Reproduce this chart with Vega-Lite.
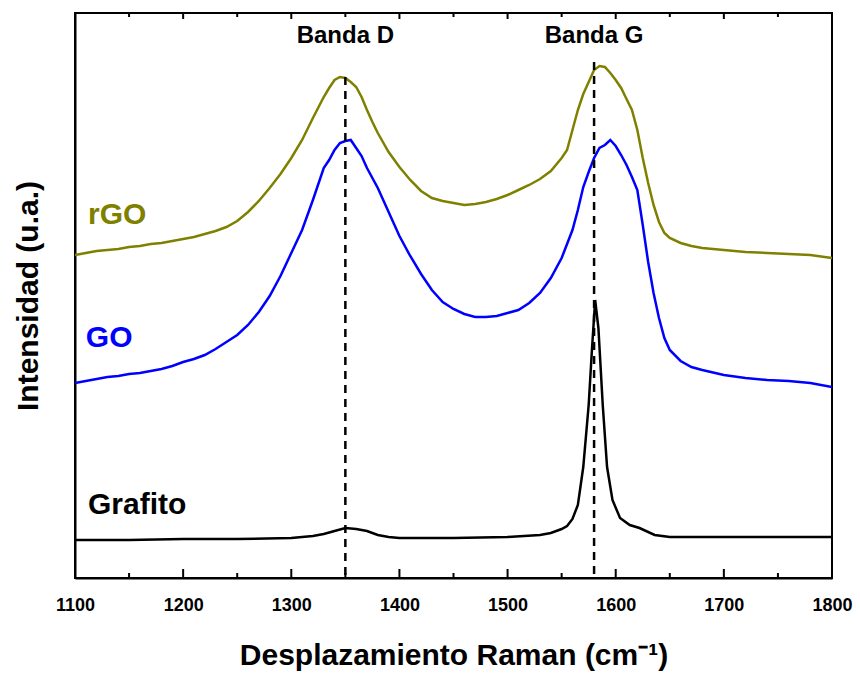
{
  "$schema": "https://vega.github.io/schema/vega-lite/v6.json",
  "width": 757,
  "height": 565,
  "autosize": {"type": "none"},
  "padding": {"left": 75, "top": 13, "right": 28, "bottom": 97},
  "background": "white",
  "config": {
    "view": {"stroke": "black", "strokeWidth": 2},
    "axis": {"grid": false, "domainColor": "black", "domainWidth": 2, "tickColor": "black", "tickWidth": 2}
  },
  "datasets": {
    "spectra": [
      {"x":1100,"y":323,"s":"rGO"},{"x":1110,"y":325,"s":"rGO"},{"x":1120,"y":327,"s":"rGO"},{"x":1130,"y":328,"s":"rGO"},{"x":1140,"y":329,"s":"rGO"},{"x":1150,"y":331,"s":"rGO"},{"x":1160,"y":332,"s":"rGO"},{"x":1170,"y":334,"s":"rGO"},{"x":1180,"y":335,"s":"rGO"},{"x":1190,"y":337,"s":"rGO"},{"x":1200,"y":339,"s":"rGO"},{"x":1210,"y":341,"s":"rGO"},{"x":1220,"y":344,"s":"rGO"},{"x":1230,"y":347,"s":"rGO"},{"x":1240,"y":351,"s":"rGO"},{"x":1250,"y":357,"s":"rGO"},{"x":1260,"y":366,"s":"rGO"},{"x":1270,"y":377,"s":"rGO"},{"x":1280,"y":390,"s":"rGO"},{"x":1290,"y":404,"s":"rGO"},{"x":1300,"y":420,"s":"rGO"},{"x":1310,"y":438,"s":"rGO"},{"x":1320,"y":460,"s":"rGO"},{"x":1330,"y":481,"s":"rGO"},{"x":1335,"y":490,"s":"rGO"},{"x":1340,"y":498,"s":"rGO"},{"x":1345,"y":501,"s":"rGO"},{"x":1350,"y":500,"s":"rGO"},{"x":1355,"y":496,"s":"rGO"},{"x":1360,"y":491,"s":"rGO"},{"x":1365,"y":481,"s":"rGO"},{"x":1370,"y":468,"s":"rGO"},{"x":1375,"y":456,"s":"rGO"},{"x":1380,"y":445,"s":"rGO"},{"x":1390,"y":426,"s":"rGO"},{"x":1400,"y":411,"s":"rGO"},{"x":1410,"y":398,"s":"rGO"},{"x":1420,"y":387,"s":"rGO"},{"x":1430,"y":380,"s":"rGO"},{"x":1440,"y":377,"s":"rGO"},{"x":1450,"y":375,"s":"rGO"},{"x":1460,"y":373,"s":"rGO"},{"x":1470,"y":374,"s":"rGO"},{"x":1480,"y":376,"s":"rGO"},{"x":1490,"y":379,"s":"rGO"},{"x":1500,"y":383,"s":"rGO"},{"x":1510,"y":388,"s":"rGO"},{"x":1520,"y":393,"s":"rGO"},{"x":1530,"y":399,"s":"rGO"},{"x":1540,"y":407,"s":"rGO"},{"x":1550,"y":420,"s":"rGO"},{"x":1555,"y":428,"s":"rGO"},{"x":1560,"y":448,"s":"rGO"},{"x":1565,"y":468,"s":"rGO"},{"x":1570,"y":484,"s":"rGO"},{"x":1575,"y":496,"s":"rGO"},{"x":1580,"y":508,"s":"rGO"},{"x":1585,"y":512,"s":"rGO"},{"x":1590,"y":511,"s":"rGO"},{"x":1595,"y":505,"s":"rGO"},{"x":1600,"y":498,"s":"rGO"},{"x":1605,"y":490,"s":"rGO"},{"x":1610,"y":479,"s":"rGO"},{"x":1615,"y":468,"s":"rGO"},{"x":1620,"y":448,"s":"rGO"},{"x":1625,"y":420,"s":"rGO"},{"x":1630,"y":395,"s":"rGO"},{"x":1635,"y":373,"s":"rGO"},{"x":1640,"y":356,"s":"rGO"},{"x":1645,"y":345,"s":"rGO"},{"x":1650,"y":340,"s":"rGO"},{"x":1660,"y":335,"s":"rGO"},{"x":1670,"y":332,"s":"rGO"},{"x":1680,"y":330,"s":"rGO"},{"x":1700,"y":328,"s":"rGO"},{"x":1720,"y":326,"s":"rGO"},{"x":1740,"y":325,"s":"rGO"},{"x":1760,"y":324,"s":"rGO"},{"x":1780,"y":323,"s":"rGO"},{"x":1800,"y":320,"s":"rGO"},
      {"x":1100,"y":195,"s":"GO"},{"x":1110,"y":197,"s":"GO"},{"x":1120,"y":199,"s":"GO"},{"x":1130,"y":201,"s":"GO"},{"x":1140,"y":202,"s":"GO"},{"x":1150,"y":204,"s":"GO"},{"x":1160,"y":205,"s":"GO"},{"x":1170,"y":207,"s":"GO"},{"x":1180,"y":209,"s":"GO"},{"x":1190,"y":212,"s":"GO"},{"x":1200,"y":216,"s":"GO"},{"x":1210,"y":219,"s":"GO"},{"x":1220,"y":223,"s":"GO"},{"x":1230,"y":229,"s":"GO"},{"x":1240,"y":236,"s":"GO"},{"x":1250,"y":243,"s":"GO"},{"x":1260,"y":253,"s":"GO"},{"x":1270,"y":266,"s":"GO"},{"x":1280,"y":282,"s":"GO"},{"x":1290,"y":302,"s":"GO"},{"x":1300,"y":325,"s":"GO"},{"x":1310,"y":348,"s":"GO"},{"x":1320,"y":378,"s":"GO"},{"x":1330,"y":410,"s":"GO"},{"x":1335,"y":418,"s":"GO"},{"x":1340,"y":428,"s":"GO"},{"x":1345,"y":435,"s":"GO"},{"x":1350,"y":437,"s":"GO"},{"x":1355,"y":438,"s":"GO"},{"x":1360,"y":430,"s":"GO"},{"x":1365,"y":422,"s":"GO"},{"x":1370,"y":410,"s":"GO"},{"x":1380,"y":390,"s":"GO"},{"x":1390,"y":366,"s":"GO"},{"x":1400,"y":342,"s":"GO"},{"x":1410,"y":322,"s":"GO"},{"x":1420,"y":304,"s":"GO"},{"x":1430,"y":288,"s":"GO"},{"x":1440,"y":276,"s":"GO"},{"x":1450,"y":269,"s":"GO"},{"x":1460,"y":264,"s":"GO"},{"x":1470,"y":261,"s":"GO"},{"x":1480,"y":261,"s":"GO"},{"x":1490,"y":262,"s":"GO"},{"x":1500,"y":265,"s":"GO"},{"x":1510,"y":268,"s":"GO"},{"x":1520,"y":275,"s":"GO"},{"x":1530,"y":285,"s":"GO"},{"x":1540,"y":300,"s":"GO"},{"x":1550,"y":320,"s":"GO"},{"x":1560,"y":348,"s":"GO"},{"x":1565,"y":368,"s":"GO"},{"x":1570,"y":391,"s":"GO"},{"x":1575,"y":406,"s":"GO"},{"x":1580,"y":420,"s":"GO"},{"x":1585,"y":430,"s":"GO"},{"x":1590,"y":433,"s":"GO"},{"x":1595,"y":438,"s":"GO"},{"x":1600,"y":432,"s":"GO"},{"x":1605,"y":423,"s":"GO"},{"x":1610,"y":413,"s":"GO"},{"x":1615,"y":401,"s":"GO"},{"x":1620,"y":388,"s":"GO"},{"x":1625,"y":353,"s":"GO"},{"x":1630,"y":316,"s":"GO"},{"x":1635,"y":285,"s":"GO"},{"x":1640,"y":260,"s":"GO"},{"x":1645,"y":240,"s":"GO"},{"x":1650,"y":228,"s":"GO"},{"x":1660,"y":217,"s":"GO"},{"x":1670,"y":211,"s":"GO"},{"x":1680,"y":208,"s":"GO"},{"x":1700,"y":203,"s":"GO"},{"x":1720,"y":200,"s":"GO"},{"x":1740,"y":198,"s":"GO"},{"x":1760,"y":197,"s":"GO"},{"x":1780,"y":195,"s":"GO"},{"x":1800,"y":191,"s":"GO"},
      {"x":1100,"y":38,"s":"Grafito"},{"x":1150,"y":38,"s":"Grafito"},{"x":1200,"y":39,"s":"Grafito"},{"x":1250,"y":39,"s":"Grafito"},{"x":1300,"y":40,"s":"Grafito"},{"x":1320,"y":42,"s":"Grafito"},{"x":1330,"y":44,"s":"Grafito"},{"x":1340,"y":47,"s":"Grafito"},{"x":1350,"y":50,"s":"Grafito"},{"x":1360,"y":49,"s":"Grafito"},{"x":1370,"y":47,"s":"Grafito"},{"x":1380,"y":43,"s":"Grafito"},{"x":1390,"y":41,"s":"Grafito"},{"x":1400,"y":40,"s":"Grafito"},{"x":1450,"y":40,"s":"Grafito"},{"x":1500,"y":41,"s":"Grafito"},{"x":1530,"y":43,"s":"Grafito"},{"x":1540,"y":45,"s":"Grafito"},{"x":1550,"y":49,"s":"Grafito"},{"x":1555,"y":52,"s":"Grafito"},{"x":1560,"y":59,"s":"Grafito"},{"x":1565,"y":73,"s":"Grafito"},{"x":1570,"y":111,"s":"Grafito"},{"x":1575,"y":173,"s":"Grafito"},{"x":1578,"y":228,"s":"Grafito"},{"x":1581,"y":278,"s":"Grafito"},{"x":1584,"y":250,"s":"Grafito"},{"x":1588,"y":173,"s":"Grafito"},{"x":1592,"y":111,"s":"Grafito"},{"x":1597,"y":78,"s":"Grafito"},{"x":1604,"y":60,"s":"Grafito"},{"x":1613,"y":53,"s":"Grafito"},{"x":1622,"y":50,"s":"Grafito"},{"x":1636,"y":43,"s":"Grafito"},{"x":1650,"y":41,"s":"Grafito"},{"x":1700,"y":41,"s":"Grafito"},{"x":1750,"y":41,"s":"Grafito"},{"x":1800,"y":41,"s":"Grafito"}
    ],
    "bands": [
      {"x": 1350, "top": 501, "bottom": 0, "label": "Banda D", "ly": 542},
      {"x": 1580, "top": 516, "bottom": 0, "label": "Banda G", "ly": 542}
    ],
    "names": [
      {"x": 1112, "y": 363, "s": "rGO"},
      {"x": 1110, "y": 240, "s": "GO"},
      {"x": 1112, "y": 73, "s": "Grafito"}
    ],
    "ticks": [
      {"x":1100,"kind":"major"},{"x":1150,"kind":"minor"},{"x":1200,"kind":"major"},{"x":1250,"kind":"minor"},{"x":1300,"kind":"major"},{"x":1350,"kind":"minor"},{"x":1400,"kind":"major"},{"x":1450,"kind":"minor"},{"x":1500,"kind":"major"},{"x":1550,"kind":"minor"},{"x":1600,"kind":"major"},{"x":1650,"kind":"minor"},{"x":1700,"kind":"major"},{"x":1750,"kind":"minor"},{"x":1800,"kind":"major"}
    ]
  },
  "resolve": {"axis": {"x": "independent"}},
  "layer": [
    {
      "data": {"name": "spectra"},
      "mark": {"type": "line", "strokeWidth": 2.5, "clip": true},
      "encoding": {
        "x": {
          "field": "x", "type": "quantitative",
          "scale": {"domain": [1100, 1800], "nice": false},
          "axis": {
            "orient": "bottom",
            "values": [1100,1200,1300,1400,1500,1600,1700,1800],
            "format": "d",
            "ticks": false,
            "labelPadding": 18,
            "labelFont": "Liberation Sans",
            "labelFontWeight": "bold",
            "labelFontSize": 18,
            "labelColor": "black",
            "labelFlush": false,
            "title": "Desplazamiento Raman (cm⁻¹)",
            "titleFont": "Liberation Sans",
            "titleFontWeight": "bold",
            "titleFontSize": 30,
            "titleColor": "black",
            "titlePadding": 26
          }
        },
        "y": {
          "field": "y", "type": "quantitative",
          "scale": {"domain": [0, 565], "nice": false},
          "axis": {
            "ticks": false, "labels": false,
            "title": "Intensidad (u.a.)",
            "titleFont": "Liberation Sans",
            "titleFontWeight": "bold",
            "titleFontSize": 30,
            "titleColor": "black",
            "titlePadding": 32
          }
        },
        "color": {
          "field": "s", "type": "nominal",
          "scale": {"domain": ["rGO", "GO", "Grafito"], "range": ["#808000", "#0000FF", "#000000"]},
          "legend": null
        },
        "detail": {"field": "s"}
      }
    },
    {
      "data": {"name": "bands"},
      "mark": {"type": "rule", "strokeWidth": 2.5, "strokeDash": [8, 6], "color": "black"},
      "encoding": {
        "x": {"field": "x", "type": "quantitative", "axis": null},
        "y": {"field": "top", "type": "quantitative"},
        "y2": {"field": "bottom"}
      }
    },
    {
      "data": {"name": "bands"},
      "mark": {"type": "text", "font": "Liberation Sans", "fontWeight": "bold", "fontSize": 24, "color": "black", "align": "center", "baseline": "middle"},
      "encoding": {
        "x": {"field": "x", "type": "quantitative", "axis": null},
        "y": {"field": "ly", "type": "quantitative"},
        "text": {"field": "label"}
      }
    },
    {
      "data": {"name": "names"},
      "mark": {"type": "text", "font": "Liberation Sans", "fontWeight": "bold", "fontSize": 30, "align": "left", "baseline": "middle"},
      "encoding": {
        "x": {"field": "x", "type": "quantitative", "axis": null},
        "y": {"field": "y", "type": "quantitative"},
        "text": {"field": "s"},
        "color": {"field": "s", "type": "nominal", "legend": null}
      }
    },
    {
      "data": {"name": "ticks"},
      "transform": [{"filter": "datum.kind === 'major'"}],
      "mark": {"type": "tick", "orient": "vertical", "color": "black", "thickness": 2, "size": 9, "yOffset": -4.5, "opacity": 1},
      "encoding": {
        "x": {"field": "x", "type": "quantitative", "axis": null},
        "y": {"datum": 0, "type": "quantitative"}
      }
    },
    {
      "data": {"name": "ticks"},
      "transform": [{"filter": "datum.kind === 'minor'"}],
      "mark": {"type": "tick", "orient": "vertical", "color": "black", "thickness": 2, "size": 5, "yOffset": -2.5, "opacity": 1},
      "encoding": {
        "x": {"field": "x", "type": "quantitative", "axis": null},
        "y": {"datum": 0, "type": "quantitative"}
      }
    },
    {
      "data": {"name": "ticks"},
      "transform": [{"filter": "datum.kind === 'major'"}],
      "mark": {"type": "tick", "orient": "vertical", "color": "black", "thickness": 2, "size": 6, "yOffset": 3, "opacity": 1},
      "encoding": {
        "x": {"field": "x", "type": "quantitative", "axis": null},
        "y": {"datum": 565, "type": "quantitative"}
      }
    },
    {
      "data": {"name": "ticks"},
      "transform": [{"filter": "datum.kind === 'minor'"}],
      "mark": {"type": "tick", "orient": "vertical", "color": "black", "thickness": 2, "size": 4, "yOffset": 2, "opacity": 1},
      "encoding": {
        "x": {"field": "x", "type": "quantitative", "axis": null},
        "y": {"datum": 565, "type": "quantitative"}
      }
    }
  ]
}
